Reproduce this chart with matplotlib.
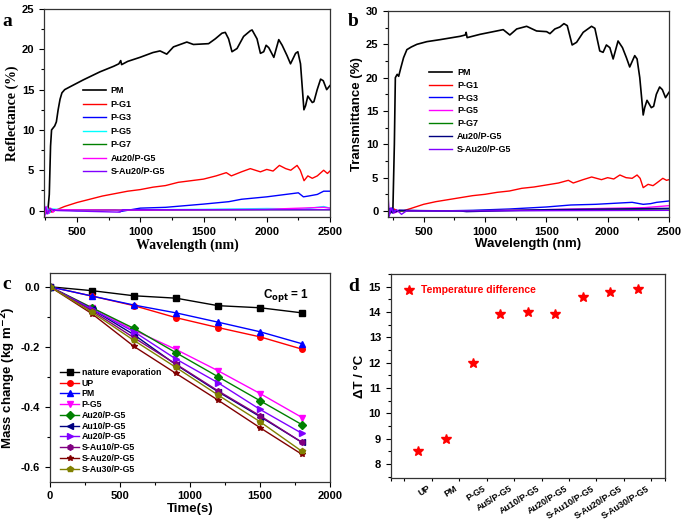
import matplotlib
matplotlib.use("Agg")
import matplotlib.pyplot as plt
import matplotlib.transforms as mtransforms
from matplotlib.ticker import MultipleLocator

# ---------------- Panel a: reflectance ----------------
a_pm_wl = [238, 255, 270, 280, 290, 298, 323, 336, 350, 365, 380, 402, 450, 548, 680, 790, 830, 845, 852, 900,
           997, 1100, 1156, 1209, 1262, 1368, 1420, 1540, 1593, 1646, 1672, 1698, 1725, 1765, 1817, 1870, 1884,
           1923, 1950, 1976, 1995, 2016, 2056, 2095, 2122, 2161, 2188, 2228, 2246, 2267, 2294, 2307, 2325, 2360,
           2373, 2399, 2426, 2447, 2474, 2500]
a_pm = [0.3, 0.0, 0.2, 2.0, 8.0, 10.0, 10.5, 11.0, 12.5, 13.8, 14.6, 15.0, 15.4, 16.2, 17.2, 17.9, 18.2, 18.6, 18.1, 18.5,
        19.0, 19.6, 19.8, 19.4, 20.3, 20.9, 20.6, 20.7, 21.3, 22.0, 22.1, 21.3, 19.7, 20.1, 21.6, 22.3, 22.4,
        21.3, 19.5, 19.7, 20.5, 20.2, 19.0, 21.2, 20.5, 19.2, 18.2, 19.5, 19.7, 18.2, 12.5, 13.0, 14.2, 13.4,
        13.5, 15.0, 16.3, 16.1, 15.0, 15.5]
a_g1_wl = [238, 260, 280, 300, 323, 400, 500, 600, 700, 800, 900, 1000, 1100, 1200, 1300, 1400, 1500, 1600, 1680,
           1720, 1800, 1870, 1950, 2000, 2050, 2100, 2150, 2190, 2240, 2265, 2295, 2325, 2360, 2400, 2450, 2480, 2500]
a_g1 = [0.2, -0.3, 0.3, -0.2, 0.0, 0.5, 1.0, 1.4, 1.8, 2.1, 2.4, 2.6, 2.9, 3.1, 3.5, 3.7, 3.9, 4.3, 4.7,
        4.3, 4.8, 5.2, 4.8, 5.1, 4.9, 5.6, 5.2, 5.0, 5.6, 5.0, 3.7, 4.3, 4.0, 4.3, 5.0, 4.6, 4.9]
a_g3_wl = [238, 250, 265, 280, 300, 500, 800, 850, 1000, 1200, 1500, 1700, 1800, 2000, 2100, 2200, 2250, 2290, 2330,
           2400, 2450, 2500]
a_g3 = [0.5, -0.5, 0.3, -0.3, 0.1, 0.0, 0.1, -0.1, 0.3, 0.4, 0.8, 1.1, 1.4, 1.7, 1.9, 2.1, 2.2, 1.7, 1.8, 2.0, 2.4, 2.4]
a_g5_wl = [238, 245, 260, 280, 300, 500, 1000, 1500, 2000, 2300, 2450, 2500]
a_g5 = [2.0, -0.5, 0.4, -0.2, 0.2, 0.0, 0.1, 0.15, 0.25, 0.2, 0.5, 0.3]
a_g7_wl = [238, 250, 300, 1000, 2000, 2500]
a_g7 = [0.3, -0.3, 0.1, 0.05, 0.1, 0.1]
a_au_wl = [238, 243, 255, 270, 290, 310, 330, 1000, 2000, 2450, 2500]
a_au = [2.8, -0.8, 0.5, -0.4, 0.3, -0.2, 0.1, 0.05, 0.15, 0.4, 0.3]
a_sau_wl = [238, 250, 265, 285, 340, 840, 860, 1500, 2000, 2500]
a_sau = [0.0, 0.4, -0.4, 0.2, 0.0, -0.2, 0.1, 0.1, 0.1, 0.1]

# ---------------- Panel b: transmittance ----------------
b_pm_wl = [210, 230, 250, 262, 270, 285, 297, 315, 337, 364, 400, 446, 527, 635, 798, 840, 847, 855, 961, 1096,
           1149, 1203, 1259, 1340, 1421, 1503, 1530, 1570, 1611, 1644, 1671, 1711, 1747, 1801, 1869, 1896, 1936,
           1963, 1990, 2018, 2045, 2085, 2121, 2153, 2180, 2221, 2240, 2262, 2290, 2302, 2321, 2356, 2375, 2397,
           2424, 2446, 2472, 2500]
b_pm = [0.3, -0.2, 0.2, 10.0, 20.0, 20.5, 20.2, 21.5, 23.0, 24.2, 24.6, 25.0, 25.4, 25.7, 26.2, 26.4, 26.8, 26.0, 26.5, 27.0,
        27.2, 26.4, 27.3, 27.7, 27.0, 26.9, 26.6, 27.3, 27.6, 28.1, 27.8, 24.9, 25.3, 26.8, 27.7, 27.4, 24.0,
        23.8, 24.9, 24.5, 22.8, 25.5, 24.5, 23.0, 21.6, 23.3, 22.8, 20.0, 14.4, 15.5, 16.6, 15.5, 15.7, 17.5,
        18.6, 18.2, 17.0, 17.8]
b_g1_wl = [210, 230, 260, 300, 330, 400, 500, 600, 700, 800, 900, 1000, 1100, 1200, 1300, 1400, 1500, 1600, 1680,
           1720, 1800, 1870, 1950, 2000, 2050, 2100, 2150, 2200, 2240, 2265, 2290, 2330, 2370, 2400, 2450, 2480, 2500]
b_g1 = [0.3, -0.3, 0.3, -0.1, 0.0, 0.4, 1.0, 1.4, 1.7, 2.0, 2.3, 2.5, 2.8, 3.0, 3.4, 3.6, 3.9, 4.2, 4.6,
        4.2, 4.7, 5.1, 4.7, 5.0, 4.8, 5.4, 5.0, 4.9, 5.4, 4.9, 3.5, 4.0, 3.8, 4.2, 4.9, 4.6, 4.7]
b_g3_wl = [210, 225, 245, 270, 300, 600, 900, 1200, 1500, 1700, 1900, 2100, 2200, 2290, 2350, 2400, 2500]
b_g3 = [0.5, -0.4, 0.4, -0.2, 0.1, 0.0, 0.1, 0.3, 0.6, 0.9, 1.0, 1.2, 1.3, 1.0, 1.1, 1.3, 1.5]
b_g5_wl = [210, 218, 235, 260, 300, 1000, 1500, 2000, 2300, 2500]
b_g5 = [2.5, -0.6, 0.3, -0.3, 0.0, 0.05, 0.2, 0.4, 0.5, 0.8]
b_g7_wl = [210, 230, 300, 1500, 2000, 2500]
b_g7 = [0.2, -0.2, 0.0, 0.1, 0.2, 0.3]
b_au_wl = [210, 225, 245, 300, 800, 850, 1500, 2000, 2500]
b_au = [0.0, 0.4, -0.3, 0.1, 0.0, -0.1, 0.2, 0.3, 0.4]
b_sau_wl = [210, 220, 235, 255, 280, 320, 360, 1500, 2500]
b_sau = [2.8, -0.8, 0.5, -0.3, 0.2, -0.5, 0.0, 0.05, 0.1]

# ---------------- Panel c: mass change ----------------
c_time = [0, 300, 600, 900, 1200, 1500, 1800]
c_labels = ["nature evaporation", "UP", "PM", "P-G5", "Au20/P-G5", "Au10/P-G5", "Au20/P-G5",
            "S-Au10/P-G5", "S-Au20/P-G5", "S-Au30/P-G5"]
c_values = [
    [0, -0.013, -0.030, -0.038, -0.063, -0.070, -0.087],
    [0, -0.031, -0.063, -0.103, -0.136, -0.167, -0.208],
    [0, -0.031, -0.061, -0.087, -0.118, -0.150, -0.190],
    [0, -0.070, -0.145, -0.209, -0.280, -0.356, -0.436],
    [0, -0.070, -0.139, -0.220, -0.300, -0.380, -0.460],
    [0, -0.075, -0.160, -0.260, -0.350, -0.433, -0.519],
    [0, -0.075, -0.150, -0.241, -0.320, -0.409, -0.489],
    [0, -0.080, -0.170, -0.258, -0.347, -0.430, -0.519],
    [0, -0.090, -0.199, -0.289, -0.378, -0.470, -0.559],
    [0, -0.085, -0.179, -0.269, -0.361, -0.450, -0.549],
]
c_colors = ["#000000", "#FF0000", "#0000FF", "#FF00FF", "#008000", "#000080", "#8000FF",
            "#800080", "#800000", "#808000"]
c_markers = ["s", "o", "^", "v", "D", "<", ">", "h", "*", "p"]

# ---------------- Panel d: temperature difference ----------------
d_cats = ["UP", "PM", "P-G5", "Au5/P-G5", "Au10/P-G5", "Au20/P-G5", "S-Au10/P-G5", "S-Au20/P-G5", "S-Au30/P-G5"]
d_vals = [8.5, 9.0, 12.0, 13.9, 14.0, 13.9, 14.6, 14.8, 14.9]

SANS = "Liberation Sans"
SERIF = "Liberation Serif"
plt.rcParams["font.family"] = SANS
plt.rcParams["font.weight"] = "bold"
plt.rcParams["axes.linewidth"] = 0.9

fig = plt.figure(figsize=(6.85, 5.2), dpi=100)

def style_axes(ax):
    ax.tick_params(which="both", direction="out", top=False, right=False, labelsize=8, width=0.8)
    ax.tick_params(which="major", length=3.5)
    ax.tick_params(which="minor", length=2)
    for lab in ax.get_xticklabels() + ax.get_yticklabels():
        lab.set_fontweight("bold")
        lab.set_fontfamily(SANS)
    for s in ax.spines.values():
        s.set_color("#333333")

# ---- a ----
axa = fig.add_axes([0.0642, 0.5827, 0.4175, 0.40])
ser_a = [(a_pm_wl, a_pm, "#000000", "PM", 1.2), (a_g1_wl, a_g1, "#FF0000", "P-G1", 1.0),
         (a_g3_wl, a_g3, "#0000FF", "P-G3", 1.0), (a_g5_wl, a_g5, "#00FFFF", "P-G5", 1.0),
         (a_g7_wl, a_g7, "#008000", "P-G7", 1.0), (a_au_wl, a_au, "#FF00FF", "Au20/P-G5", 1.0),
         (a_sau_wl, a_sau, "#8000FF", "S-Au20/P-G5", 1.0)]
for x, y, c, lab, lw in ser_a:
    axa.plot(x, y, color=c, lw=lw, label=lab)
axa.set_xlim(238, 2500)
axa.set_ylim(-0.8, 25)
axa.xaxis.set_major_locator(MultipleLocator(500))
axa.xaxis.set_minor_locator(MultipleLocator(250))
axa.yaxis.set_major_locator(MultipleLocator(5))
axa.yaxis.set_minor_locator(MultipleLocator(2.5))
style_axes(axa)
axa.set_xlabel("Wavelength (nm)", fontfamily=SERIF, fontweight="bold", fontsize=10, labelpad=1)
axa.set_ylabel("Reflectance (%)", fontfamily=SERIF, fontweight="bold", fontsize=10, labelpad=2)
axa.legend(loc="upper left", bbox_to_anchor=(0.12, 0.65), frameon=False,
           handlelength=2.6, handletextpad=0.5, labelspacing=0.5, borderpad=0,
           prop={"weight": "bold", "size": 6.5, "family": SANS})

# ---- b ----
axb = fig.add_axes([0.5664, 0.5827, 0.4102, 0.3962])
ser_b = [(b_pm_wl, b_pm, "#000000", "PM", 1.2), (b_g1_wl, b_g1, "#FF0000", "P-G1", 1.0),
         (b_g3_wl, b_g3, "#0000FF", "P-G3", 1.0), (b_g5_wl, b_g5, "#FF00FF", "P-G5", 1.0),
         (b_g7_wl, b_g7, "#008000", "P-G7", 1.0), (b_au_wl, b_au, "#000080", "Au20/P-G5", 1.0),
         (b_sau_wl, b_sau, "#8000FF", "S-Au20/P-G5", 1.0)]
for x, y, c, lab, lw in ser_b:
    axb.plot(x, y, color=c, lw=lw, label=lab)
axb.set_xlim(210, 2500)
axb.set_ylim(-0.9, 30)
axb.xaxis.set_major_locator(MultipleLocator(500))
axb.xaxis.set_minor_locator(MultipleLocator(250))
axb.yaxis.set_major_locator(MultipleLocator(5))
axb.yaxis.set_minor_locator(MultipleLocator(2.5))
style_axes(axb)
axb.set_xlabel("Wavelength (nm)", fontweight="bold", fontsize=9.5, labelpad=1)
axb.set_ylabel("Transmittance (%)", fontweight="bold", fontsize=9.5, labelpad=2)
axb.legend(loc="upper left", bbox_to_anchor=(0.13, 0.745), frameon=False,
           handlelength=2.6, handletextpad=0.5, labelspacing=0.42, borderpad=0,
           prop={"weight": "bold", "size": 6.5, "family": SANS})

# ---- c ----
axc = fig.add_axes([0.073, 0.0737, 0.4088, 0.4019])
for vals, lab, col, mk in zip(c_values, c_labels, c_colors, c_markers):
    axc.plot(c_time, vals, color=col, marker=mk, markersize=4, lw=1.0, label=lab)
axc.set_xlim(0, 2000)
axc.set_ylim(-0.65, 0.047)
axc.xaxis.set_major_locator(MultipleLocator(500))
axc.xaxis.set_minor_locator(MultipleLocator(250))
axc.yaxis.set_major_locator(MultipleLocator(0.2))
axc.yaxis.set_minor_locator(MultipleLocator(0.1))
axc.yaxis.set_major_formatter(matplotlib.ticker.FormatStrFormatter("%.1f"))
style_axes(axc)
axc.set_xlabel("Time(s)", fontweight="bold", fontsize=9.5, labelpad=1)
axc.set_ylabel(r"Mass change (kg m$^{\mathbf{-2}}$)", fontweight="bold", fontsize=9.5, labelpad=2)
axc.text(0.76, 0.93, r"C$_{\mathbf{opt}}$ = 1", transform=axc.transAxes, fontsize=8.5,
         fontweight="bold", ha="left", va="top")
axc.legend(loc="upper left", bbox_to_anchor=(0.02, 0.565), frameon=False,
           handlelength=2.2, handletextpad=0.3, labelspacing=0.2, borderpad=0,
           prop={"weight": "bold", "size": 6.3, "family": SANS})

# ---- d ----
axd = fig.add_axes([0.5704, 0.0802, 0.4004, 0.3929])
d_x = list(range(1, len(d_cats) + 1))
axd.plot(d_x, d_vals, linestyle="none", marker="*", markersize=7, color="#FF0000",
         label="Temperature difference")
axd.set_xlim(0, 10)
axd.set_ylim(7.43, 15.5)
axd.set_xticks(d_x)
axd.set_xticklabels(d_cats, rotation=32, ha="right", rotation_mode="anchor")
axd.xaxis.set_minor_locator(MultipleLocator(0.5))
axd.yaxis.set_major_locator(MultipleLocator(1))
axd.yaxis.set_minor_locator(MultipleLocator(0.5))
style_axes(axd)
axd.tick_params(axis="x", which="major", length=0, pad=4, labelsize=6.5)
shift = mtransforms.ScaledTranslation(0.09, 0, fig.dpi_scale_trans)
for lab in axd.get_xticklabels():
    lab.set_transform(lab.get_transform() + shift)
axd.set_ylabel("ΔT / °C", fontweight="bold", fontsize=9.5, labelpad=2)
leg = axd.legend(loc="upper left", bbox_to_anchor=(0.03, 0.97), frameon=False,
                 handlelength=1.0, handletextpad=0.6, borderpad=0,
                 prop={"weight": "bold", "size": 7.5, "family": SANS})
for t in leg.get_texts():
    t.set_color("#FF0000")

# ---- panel letters ----
for lx, ly, s in [(0.003, 0.975, "a"), (0.508, 0.975, "b"), (0.003, 0.47, "c"), (0.508, 0.465, "d")]:
    fig.text(lx, ly, s, fontfamily=SERIF, fontweight="bold", fontsize=14, va="top", ha="left")

fig.savefig("out.png", dpi=100)
